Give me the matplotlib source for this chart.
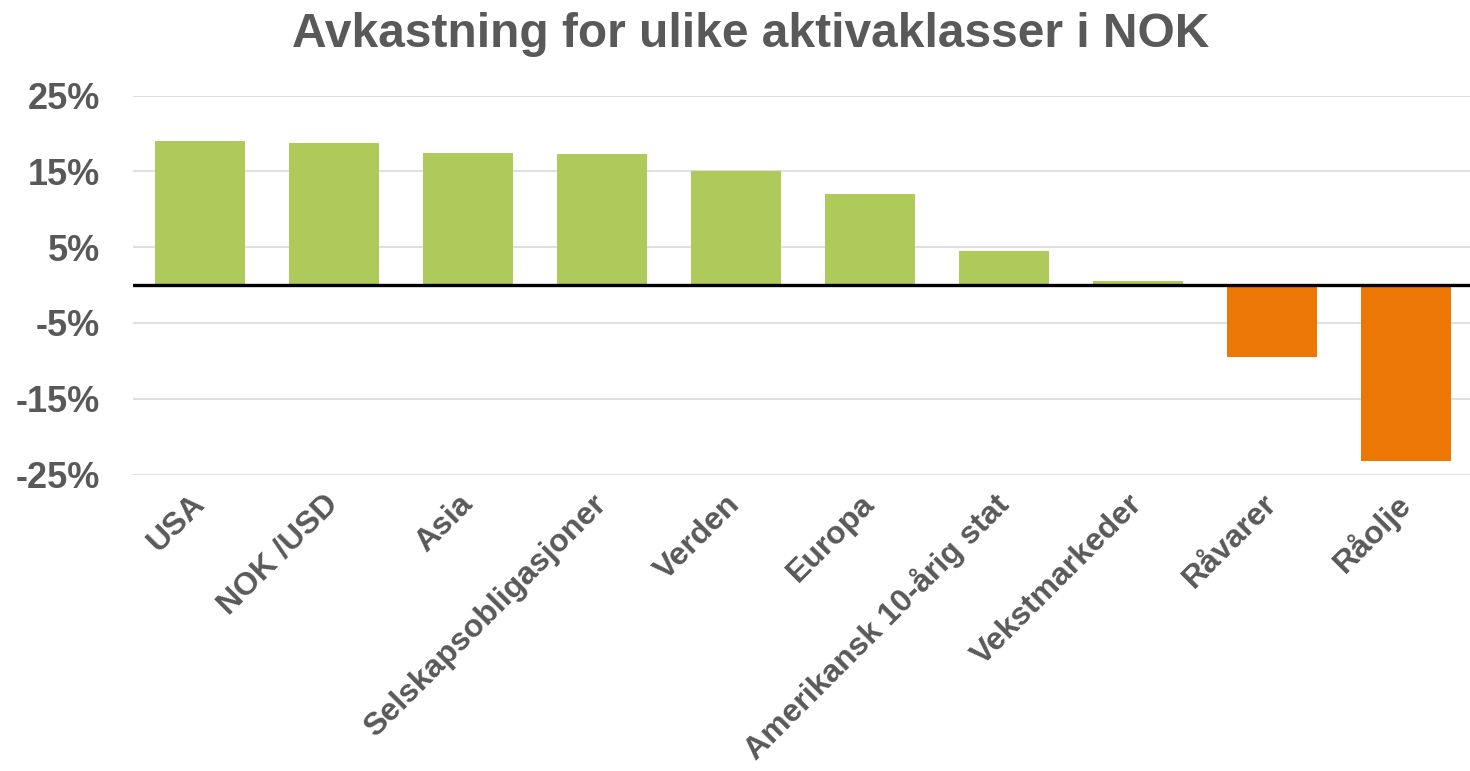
import matplotlib
matplotlib.use("Agg")
import matplotlib.pyplot as plt
from matplotlib.ticker import FuncFormatter

categories = ["USA", "NOK /USD", "Asia", "Selskapsobligasjoner", "Verden", "Europa",
              "Amerikansk 10-årig stat", "Vekstmarkeder", "Råvarer", "Råolje"]
values = [19.0, 18.7, 17.4, 17.3, 15.0, 12.0, 4.5, 0.5, -9.5, -23.2]
yticks = [-25, -15, -5, 5, 15, 25]
title = "Avkastning for ulike aktivaklasser i NOK"

GREEN = "#ADCA5A"
ORANGE = "#EC7704"
TEXT = "#595959"

plt.rcParams['font.family'] = ['Liberation Sans', 'DejaVu Sans']
plt.rcParams['font.weight'] = 'bold'

W, H = 1470, 771
fig = plt.figure(figsize=(W / 100, H / 100), dpi=100)
left = 133 / W
right = 1473 / W
top = 1 - 95.5 / H
bottom = 1 - 474.5 / H
ax = fig.add_axes([left, bottom, right - left, top - bottom])

colors = [GREEN if v >= 0 else ORANGE for v in values]
x = list(range(len(categories)))
ax.bar(x, values, width=0.67, color=colors, zorder=2)
ax.axhline(0, color="black", linewidth=2.4, zorder=3)

ax.set_xlim(-0.5, len(categories) - 0.5)
ax.set_ylim(-25, 25)
ax.set_yticks(yticks)
ax.yaxis.set_major_formatter(FuncFormatter(lambda v, p: f"{int(v)}%"))
ax.grid(axis="y", color="#D9D9D9", linewidth=1.2, zorder=0)
ax.set_axisbelow(True)

for s in ax.spines.values():
    s.set_visible(False)
ax.tick_params(axis="both", length=0)
ax.tick_params(axis="y", labelsize=26, labelcolor=TEXT, pad=24)
ax.set_xticks(x)
ax.set_xticklabels(categories, rotation=45, ha="right", va="center",
                   rotation_mode="anchor", fontsize=23, color=TEXT, fontweight="bold")
ax.tick_params(axis="x", pad=18)
for lbl in ax.get_yticklabels():
    lbl.set_fontweight("bold")

fig.text(751 / W, 1 - 46.7 / H, title, ha="center", va="baseline",
         fontsize=34.5, color=TEXT, fontweight="bold")

fig.savefig("out.png", dpi=100)
